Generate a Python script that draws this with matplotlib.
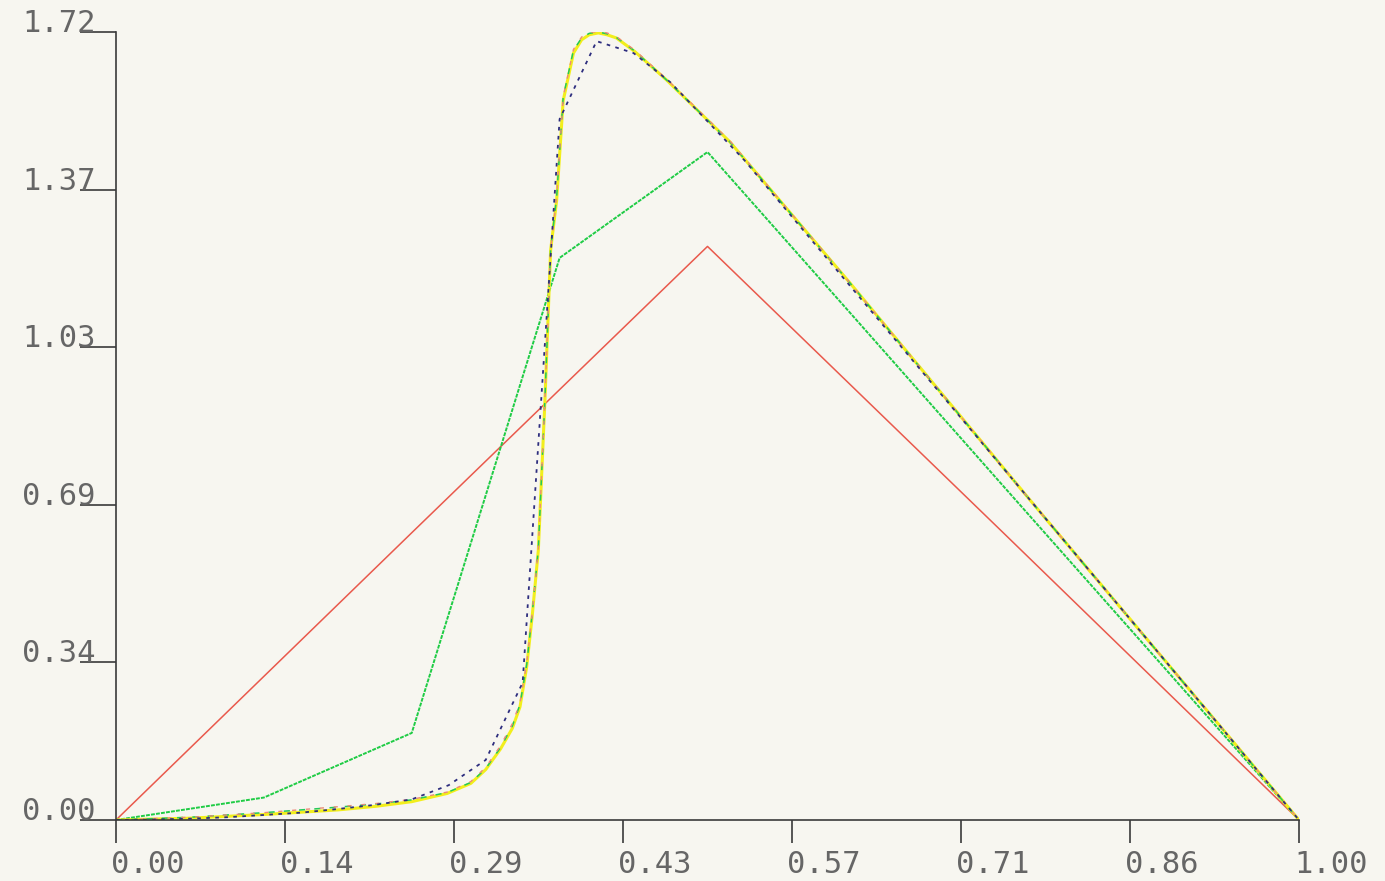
import numpy as np
import matplotlib
matplotlib.use("Agg")
from matplotlib import pyplot as plt

# coarse solutions
red_x = [0.0, 0.25, 0.5, 0.75, 1.0]
red_y = [0.0, 0.627, 1.252, 0.627, 0.0]

green_x = [0.0, 0.125, 0.25, 0.375, 0.5, 0.625, 0.75, 0.875, 1.0]
green_y = [0.0, 0.049, 0.19, 1.227, 1.458, 1.094, 0.729, 0.365, 0.0]

# medium grid (1/32)
blue_x = [0.0, 0.03125, 0.0625, 0.09375, 0.125, 0.15625, 0.1875, 0.21875, 0.25,
          0.28125, 0.3125, 0.34375, 0.375, 0.40625, 0.4375, 0.46875, 0.53125, 1.0]
blue_y = [0.0, 0.001, 0.003, 0.006, 0.011, 0.016, 0.024, 0.033, 0.045,
          0.076, 0.131, 0.30, 1.53, 1.70, 1.674, 1.61, 1.44, 0.0]

# fine solutions
fine_x = [0.0, 0.0625, 0.125, 0.1875, 0.22, 0.25, 0.28, 0.30, 0.3125, 0.325,
          0.335, 0.3415, 0.3472, 0.352, 0.357, 0.3626, 0.3674, 0.3725, 0.378,
          0.3867, 0.3936, 0.40, 0.4077, 0.415, 0.423, 0.4387, 0.4655, 0.519,
          0.6205, 0.7726, 1.0]
yellow_y = [0.0, 0.004, 0.012, 0.022, 0.030, 0.040, 0.058, 0.080, 0.110, 0.155,
            0.200, 0.247, 0.335, 0.450, 0.589, 0.917, 1.244, 1.353, 1.570,
            1.674, 1.703, 1.714, 1.718, 1.714, 1.707, 1.677, 1.615, 1.480,
            1.172, 0.6985, 0.0]
green_fine_y = [0.0, 0.006, 0.016, 0.028, 0.035, 0.044, 0.060, 0.082, 0.112, 0.158,
                0.205, 0.252, 0.340, 0.455, 0.592, 0.920, 1.246, 1.360, 1.578,
                1.680, 1.707, 1.717, 1.720, 1.716, 1.708, 1.678, 1.615, 1.480,
                1.172, 0.6985, 0.0]
red_fine_y = [0.0, 0.006, 0.016, 0.029, 0.036, 0.045, 0.061, 0.084, 0.115, 0.162,
              0.210, 0.256, 0.342, 0.455, 0.592, 0.920, 1.246, 1.360, 1.578,
              1.682, 1.709, 1.719, 1.721, 1.718, 1.710, 1.680, 1.617, 1.482,
              1.172, 0.6985, 0.0]

xticks = [0, 1/7, 2/7, 3/7, 4/7, 5/7, 6/7, 1.0]
xtick_labels = ['0.00', '0.14', '0.29', '0.43', '0.57', '0.71', '0.86', '1.00']
yticks = [0.0, 0.344, 0.688, 1.032, 1.376, 1.72]
ytick_labels = ['0.00', '0.34', '0.69', '1.03', '1.37', '1.72']

bg = '#f7f6f0'
ink = '#3a3a3a'

fig = plt.figure(figsize=(13.85, 8.81), dpi=100, facecolor=bg)
ax = fig.add_axes([116/1385, 61/881, 1183/1385, 788/881])
ax.set_facecolor(bg)

ax.plot(red_x, red_y, color='#e9594c', lw=1.1)
ax.plot(green_x, green_y, color='#1fcc45', lw=1.4, ls=(0, (2, 0.6)))
ax.plot(fine_x, yellow_y, color='#f2ee1c', lw=2.2)
ax.plot(fine_x, green_fine_y, color='#22c95a', lw=1.1, ls=(0, (4, 6)))
ax.plot(fine_x, red_fine_y, color='#ec8a78', lw=1.0, ls=(3, (3, 7)))
ax.plot(blue_x, blue_y, color='#2d2d7e', lw=1.3, ls=(0, (2, 3)))

ax.set_xlim(0, 1)
ax.set_ylim(0, 1.72)
for s in ['top', 'right']:
    ax.spines[s].set_visible(False)
for s in ['left', 'bottom']:
    ax.spines[s].set_color(ink)
    ax.spines[s].set_linewidth(1.2)

ax.set_xticks(xticks)
ax.set_yticks(yticks)
ax.set_xticklabels([])
ax.set_yticklabels([])
ax.tick_params(axis='x', direction='out', length=16.5, width=1.2, color=ink)
ax.tick_params(axis='y', direction='out', length=26, width=1.2, color=ink)

fnt = dict(family='DejaVu Sans Mono', size=22, color='#666666')
for v, lab in zip(xticks, xtick_labels):
    ax.text(v - 5/1183, -30/788, lab, transform=ax.get_xaxis_transform(),
            ha='left', va='top', **fnt)
for v, lab in zip(yticks, ytick_labels):
    ax.text(-20/1183, v, lab, transform=ax.get_yaxis_transform(),
            ha='right', va='baseline', **fnt)

fig.savefig('out.png', dpi=100, facecolor=bg)
